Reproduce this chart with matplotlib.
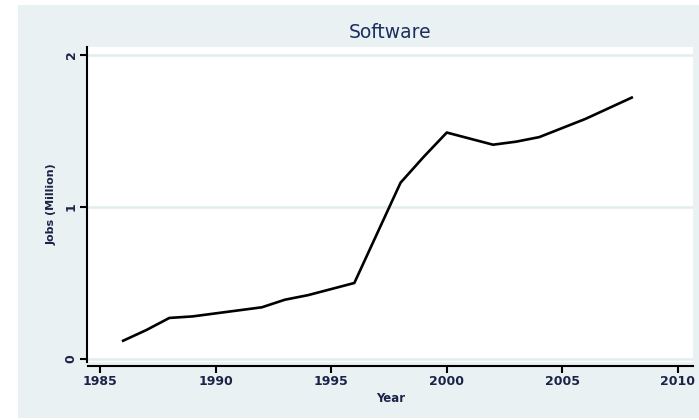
import matplotlib
matplotlib.use("Agg")
import matplotlib.pyplot as plt
from matplotlib.patches import Rectangle

# Software jobs, in millions
years = list(range(1986, 2009))
jobs = [0.12, 0.19, 0.27, 0.28, 0.30, 0.32, 0.34, 0.39, 0.42, 0.46, 0.50,
        0.83, 1.16, 1.33, 1.49, 1.45, 1.41, 1.43, 1.46, 1.52, 1.58, 1.65, 1.72]

x_ticks = [1985, 1990, 1995, 2000, 2005, 2010]
y_ticks = [0, 1, 2]

W, H = 699, 420
bg = "#eaf1f3"
grid_col = "#e3ecef"
text_col = "#1b2448"

fig = plt.figure(figsize=(W / 100, H / 100), dpi=100)
fig.patch.set_facecolor("white")

# light graph region inside a thin white border
fig.patches.append(Rectangle((18 / W, 1 - 418 / H), 1 - 18 / W, (418 - 5) / H,
                             transform=fig.transFigure, facecolor=bg,
                             edgecolor="none", zorder=-10))

ax = fig.add_axes([88 / W, 1 - 362 / H, (693 - 88) / W, (362 - 47) / H])
ax.set_zorder(1)
ax.set_facecolor("white")

ax.plot(years, jobs, color="black", lw=1.9, solid_joinstyle="round", zorder=3)

ax.set_xlim(1984.48, 2010.65)
ax.set_ylim(-0.02, 2.053)
ax.set_xticks(x_ticks)
ax.set_yticks(y_ticks)

for v in y_ticks:
    ax.axhline(v, color=grid_col, lw=1.8, zorder=1)

for s in ("top", "right"):
    ax.spines[s].set_visible(False)
ax.spines["left"].set_position(("outward", 0.8))
ax.spines["bottom"].set_position(("outward", 3))
for s in ("left", "bottom"):
    ax.spines[s].set_linewidth(1.5)
    ax.spines[s].set_color("black")

ax.tick_params(axis="both", direction="out", length=5, width=1.5, color="black",
               labelcolor=text_col, pad=1.5)
for lab in ax.get_xticklabels():
    lab.set_fontfamily("DejaVu Sans")
    lab.set_fontweight("bold")
    lab.set_fontsize(9)
for lab in ax.get_yticklabels():
    lab.set_fontfamily("DejaVu Sans")
    lab.set_fontweight("bold")
    lab.set_fontsize(9)
    lab.set_rotation(90)
    lab.set_va("center")

ax.set_xlabel("Year", fontsize=8.5, fontweight="bold", color=text_col,
              family="DejaVu Sans", labelpad=3)
ax.set_ylabel("Jobs (Million)", fontsize=8, fontweight="bold", color=text_col,
              family="DejaVu Sans", labelpad=6)

fig.text(390 / W, 1 - 32 / H, "Software", ha="center", va="center",
         fontsize=13.5, color="#1c2f5e", family="DejaVu Sans")

fig.savefig("out.png", dpi=100, facecolor=fig.get_facecolor())
